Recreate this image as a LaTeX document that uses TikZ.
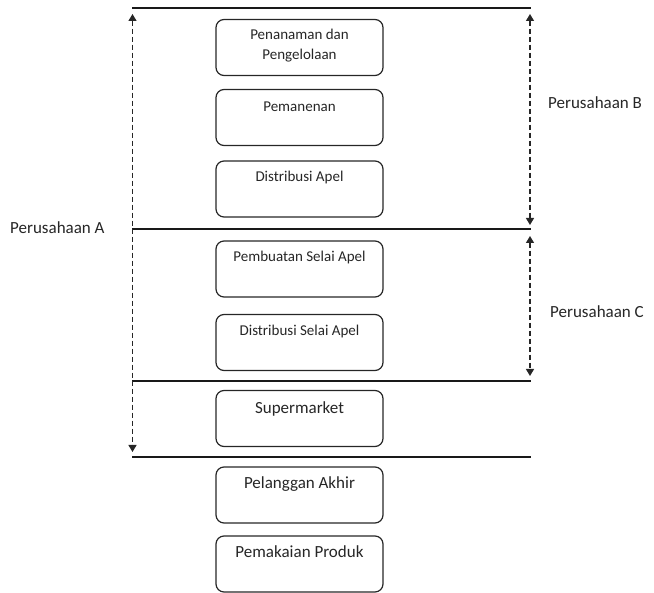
\documentclass[tikz,border=0pt]{standalone}
\usepackage{fontspec}
\setmainfont{Carlito}
\usetikzlibrary{arrows.meta,calc}
\begin{document}
\begin{tikzpicture}[x=1pt,y=-1pt,
  stagebox/.style={draw=black!85,line width=1.2pt,rounded corners=8pt,minimum width=167pt,minimum height=56pt,inner sep=0pt},
  boxtext/.style={font=\fontsize{15}{20}\selectfont,text=black!85,align=center,inner sep=0pt},
  bigtext/.style={font=\fontsize{17}{20}\selectfont,text=black!85,inner sep=0pt},
  sepline/.style={line width=1.7pt,black!90},
  span/.style={dashed,dash pattern=on 5pt off 3pt,line width=1.3pt,black!85,{Triangle[length=7pt,width=8pt]}-{Triangle[length=7pt,width=8pt]}}]
\useasboundingbox (0,0) rectangle (654,593);
% separator lines
\coordinate (l1a) at (132,8);   \coordinate (l1b) at (531,8);
\coordinate (l2a) at (132,229); \coordinate (l2b) at (531,229);
\coordinate (l3a) at (132,381); \coordinate (l3b) at (531,381);
\coordinate (l4a) at (132,457); \coordinate (l4b) at (531,457);
\draw[sepline] (l1a) -- (l1b);
\draw[sepline] (l2a) -- (l2b);
\draw[sepline] (l3a) -- (l3b);
\draw[sepline] (l4a) -- (l4b);
% boxes
\node[stagebox] (b1) at (299.5,47.5) {};
\node[stagebox] (b2) at (299.5,117.5) {};
\node[stagebox] (b3) at (299.5,189) {};
\node[stagebox] (b4) at (299.5,269) {};
\node[stagebox] (b5) at (299.5,342.5) {};
\node[stagebox] (b6) at (299.5,418.5) {};
\node[stagebox] (b7) at (299.5,495) {};
\node[stagebox] (b8) at (299.5,564) {};
% box texts
\node[boxtext,anchor=north] (t1) at ($(b1.north)+(0,10)$) {Penanaman dan\\Pengelolaan};
\node[boxtext] (t2) at ($(b2.north)+(0,18)$) {Pemanenan};
\node[boxtext] (t3) at ($(b3.north)+(0,17)$) {Distribusi Apel};
\node[boxtext] (t4) at ($(b4.north)+(0,17)$) {Pembuatan Selai Apel};
\node[boxtext] (t5) at ($(b5.north)+(0,18)$) {Distribusi Selai Apel};
\node[bigtext] (t6) at ($(b6.north)+(0,19)$) {Supermarket};
\node[bigtext] (t7) at ($(b7.north)+(0,18)$) {Pelanggan Akhir};
\node[bigtext] (t8) at ($(b8.north)+(0,16)$) {Pemakaian Produk};
% company spans
\coordinate (aT) at (132.5,14);  \coordinate (aB) at (132.5,452);
\coordinate (bT) at (530,14);    \coordinate (bB) at (530,225);
\coordinate (cT) at (530,236);   \coordinate (cB) at (530,376);
\draw[span] (aT) -- (aB);
\draw[span] (bT) -- (bB);
\draw[span] (cT) -- (cB);
\node[bigtext,anchor=west] (pa) at (10,228) {Perusahaan A};
\node[bigtext,anchor=west] (pb) at (548,103) {Perusahaan B};
\node[bigtext,anchor=west] (pc) at (550,312) {Perusahaan C};
\end{tikzpicture}
\end{document}
